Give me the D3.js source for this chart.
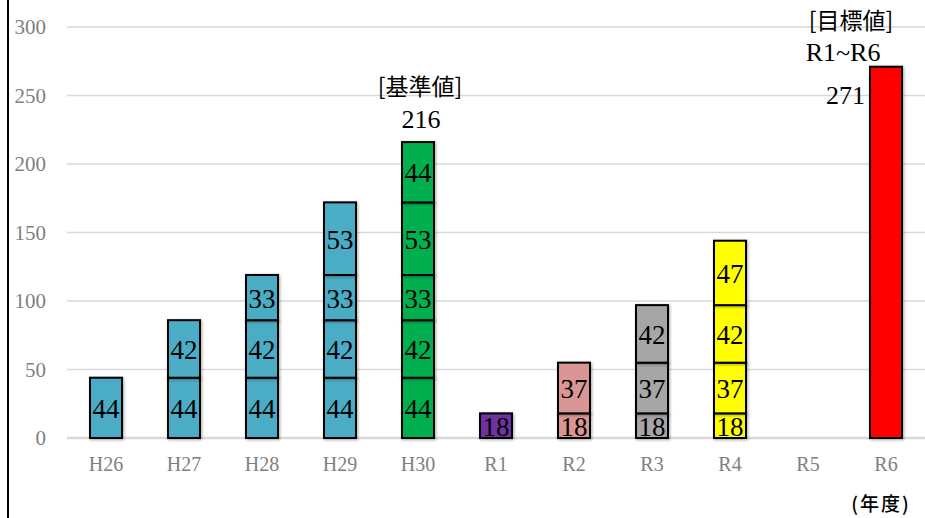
<!DOCTYPE html>
<html>
<head>
<meta charset="utf-8">
<script src="https://cdn.jsdelivr.net/npm/d3@7"></script>
<style>
  body { margin: 0; background: #fff; }
</style>
</head>
<body>
<div id="chart"></div>
<script>
// --- données ---
const categories = ["H26", "H27", "H28", "H29", "H30", "R1", "R2", "R3", "R4", "R5", "R6"];
const couche1 = [44, 44, 44, 44, 44, 18, 18, 18, 18, 0, 271];
const couche2 = [0, 42, 42, 42, 42, 0, 37, 37, 37, 0, 0];
const couche3 = [0, 0, 33, 33, 33, 0, 0, 42, 42, 0, 0];
const couche4 = [0, 0, 0, 53, 53, 0, 0, 0, 47, 0, 0];
const couche5 = [0, 0, 0, 0, 44, 0, 0, 0, 0, 0, 0];
const couleurs = ["#4bacc6", "#4bacc6", "#4bacc6", "#4bacc6", "#00b050", "#7030a0",
                  "#da9694", "#a6a6a6", "#ffff00", "#ffffff", "#ff0000"];
const yTicks = [0, 50, 100, 150, 200, 250, 300];

const SERIF = "'Liberation Serif', 'DejaVu Serif', serif";
const JP = "'Noto Sans CJK JP', sans-serif";

const largeur = 925, hauteur = 518;
const svg = d3.select("#chart").append("svg")
    .attr("width", largeur).attr("height", hauteur);

// ombre légère sous les barres
const defs = svg.append("defs");
const f = defs.append("filter").attr("id", "ombre")
    .attr("x", "-30%").attr("y", "-30%").attr("width", "160%").attr("height", "160%");
f.append("feDropShadow").attr("dx", 1).attr("dy", 1).attr("stdDeviation", 1.5)
    .attr("flood-color", "#000").attr("flood-opacity", 0.35);

const x = d3.scaleBand().domain(categories).range([67, 925]).paddingInner(0.59).paddingOuter(0.295);
const y = d3.scaleLinear().domain([0, 300]).range([438, 27]);

// lignes de grille
svg.append("g").selectAll("line").data(yTicks).join("line")
    .attr("x1", 67).attr("x2", 925)
    .attr("y1", d => y(d)).attr("y2", d => y(d))
    .attr("stroke", "#d9d9d9").attr("stroke-width", d => d === 0 ? 2.5 : 1.5);

// axe Y
const axeY = svg.append("g").attr("transform", "translate(46,0)")
    .call(d3.axisLeft(y).tickValues(yTicks).tickSize(0).tickPadding(0));
axeY.select(".domain").remove();
axeY.selectAll("text").attr("fill", "#7f7f7f").style("font-size", "21px")
    .style("font-family", SERIF);

// axe X
const axeX = svg.append("g").attr("transform", "translate(0,438)")
    .call(d3.axisBottom(x).tickSize(0).tickPadding(19));
axeX.select(".domain").remove();
axeX.selectAll("text").attr("fill", "#7f7f7f").style("font-size", "20px")
    .style("font-family", SERIF);

// empilement
const lignes = categories.map((c, i) => ({
    cat: c, c1: couche1[i], c2: couche2[i], c3: couche3[i], c4: couche4[i], c5: couche5[i]
}));
const stack = d3.stack().keys(["c1", "c2", "c3", "c4", "c5"]);
const series = stack(lignes);

const segments = [];
series.forEach(s => s.forEach((d, i) => {
    const v = d[1] - d[0];
    if (v > 0) segments.push({ cat: categories[i], i, y0: d[0], y1: d[1], v });
}));

svg.append("g").selectAll("rect").data(segments).join("rect")
    .attr("x", d => x(d.cat))
    .attr("y", d => y(d.y1))
    .attr("width", x.bandwidth())
    .attr("height", d => y(d.y0) - y(d.y1))
    .attr("fill", d => couleurs[d.i])
    .attr("stroke", "#000").attr("stroke-width", 2)
    .attr("filter", "url(#ombre)");

// étiquettes dans les segments (sauf R6)
svg.append("g").selectAll("text").data(segments.filter(d => d.cat !== "R6")).join("text")
    .attr("x", d => x(d.cat) + x.bandwidth() / 2)
    .attr("y", d => (y(d.y0) + y(d.y1)) / 2 + 10)
    .attr("text-anchor", "middle")
    .style("font-family", SERIF).style("font-size", "27px").attr("fill", "#000")
    .text(d => d.v);

// annotations
const cx30 = x("H30") + x.bandwidth() / 2;
svg.append("text").attr("x", cx30 + 2).attr("y", 95)
    .attr("text-anchor", "middle").style("font-family", JP).style("font-size", "23px").text("[基準値]");
svg.append("text").attr("x", cx30 + 3).attr("y", 128)
    .attr("text-anchor", "middle").style("font-family", SERIF).style("font-size", "26px").text("216");

svg.append("text").attr("x", 851).attr("y", 29)
    .attr("text-anchor", "middle").style("font-family", JP).style("font-size", "23px").text("[目標値]");
svg.append("text").attr("x", 843).attr("y", 61)
    .attr("text-anchor", "middle").style("font-family", SERIF).style("font-size", "26px").text("R1~R6");
svg.append("text").attr("x", 865).attr("y", 104)
    .attr("text-anchor", "end").style("font-family", SERIF).style("font-size", "26px")
    .text(d3.sum(series, s => s[10][1] - s[10][0]));

svg.append("text").attr("x", 881).attr("y", 511)
    .attr("text-anchor", "middle").style("font-family", JP).style("font-size", "19px")
    .style("font-weight", 500).style("letter-spacing", "2px").text("(年度)");

// bordure gauche
svg.append("line").attr("x1", 8).attr("x2", 8).attr("y1", 0).attr("y2", hauteur)
    .attr("stroke", "#000").attr("stroke-width", 2);
</script>
</body>
</html>
